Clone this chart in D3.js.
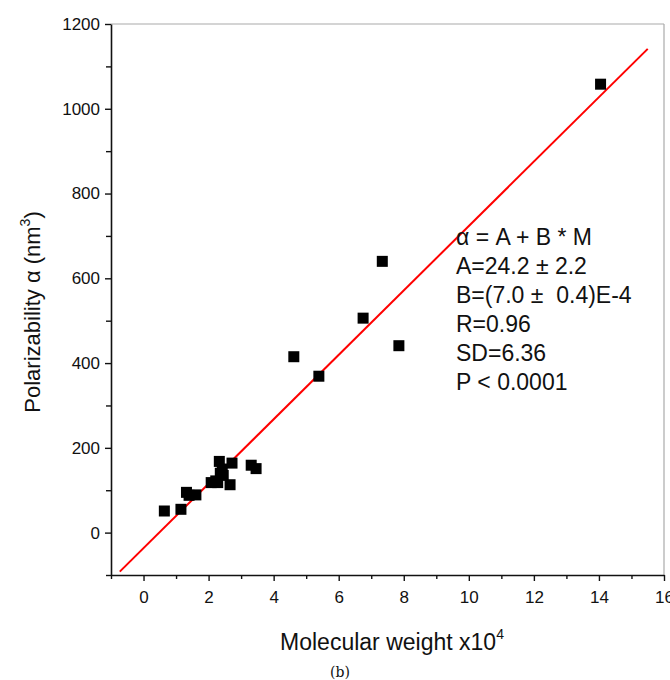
<!DOCTYPE html>
<html>
<head>
<meta charset="utf-8">
<script src="https://cdn.jsdelivr.net/npm/d3@7"></script>
<style>
  body { margin: 0; background: #fff; }
  svg text { font-family: "Liberation Sans", Arial, sans-serif; fill: #111; }
</style>
</head>
<body>
<div id="chart"></div>
<script>
// Chart size
var width = 670;
var height = 680;

// Data (M in units of 10^4, alpha in nm^3)
var molWeight = [0.64, 1.15, 1.32, 1.40, 1.61, 2.08, 2.22, 2.28, 2.33, 2.36, 2.42, 2.45, 2.66, 2.72, 3.31, 3.46, 4.62, 5.39, 6.75, 7.34, 7.85, 14.05];
var polarizability = [51, 55, 95, 88, 89, 118, 122, 118, 168, 140, 150, 135, 113, 164, 159, 151, 415, 369, 506, 640, 441, 1058];

// Fitted line as drawn in the picture
var fitIntercept = -36.6;
var fitSlope = 76;
var fitRange = [-0.73, 15.5];

// Tick values
var xMajorTicks = [0, 2, 4, 6, 8, 10, 12, 14, 16];
var xMinorTicks = [-1, 1, 3, 5, 7, 9, 11, 13, 15];
var yMajorTicks = [0, 200, 400, 600, 800, 1000, 1200];
var yMinorTicks = [-100, 100, 300, 500, 700, 900, 1100];

// Annotation lines
var fitText = ["\u03b1 = A + B * M", "A=24.2 \u00b1 2.2", "B=(7.0 \u00b1  0.4)E-4", "R=0.96", "SD=6.36", "P < 0.0001"];

// Plot area
var plotLeft = 111, plotRight = 664, plotTop = 24, plotBottom = 575;

var x = d3.scaleLinear().domain([-1, 16]).range([plotLeft, plotRight]);
var y = d3.scaleLinear().domain([-100, 1200]).range([plotBottom, plotTop]);

var svg = d3.select("#chart").append("svg")
  .attr("width", width)
  .attr("height", height);

// Grey frame on top and right
svg.append("line")
  .attr("x1", plotLeft).attr("x2", plotRight)
  .attr("y1", plotTop).attr("y2", plotTop)
  .attr("stroke", "#aaa").attr("stroke-width", 1.2);
svg.append("line")
  .attr("x1", plotRight).attr("x2", plotRight)
  .attr("y1", plotTop).attr("y2", plotBottom)
  .attr("stroke", "#aaa").attr("stroke-width", 1.2);

// X axis
svg.append("g")
  .attr("transform", "translate(0," + plotBottom + ")")
  .call(d3.axisBottom(x).tickValues(xMajorTicks).tickSize(6).tickSizeOuter(0).tickPadding(10).tickFormat(d3.format("d")));
svg.append("g")
  .attr("transform", "translate(0," + plotBottom + ")")
  .call(d3.axisBottom(x).tickValues(xMinorTicks).tickSize(4).tickFormat(""))
  .select(".domain").remove();

// Y axis
svg.append("g")
  .attr("transform", "translate(" + plotLeft + ",0)")
  .call(d3.axisLeft(y).tickValues(yMajorTicks).tickSize(6).tickSizeOuter(0).tickPadding(5).tickFormat(d3.format("d")));
svg.append("g")
  .attr("transform", "translate(" + plotLeft + ",0)")
  .call(d3.axisLeft(y).tickValues(yMinorTicks).tickSize(5).tickFormat(""))
  .select(".domain").remove();

svg.selectAll(".domain").attr("stroke", "#111").attr("stroke-width", 1.6);
svg.selectAll(".tick line").attr("stroke", "#111").attr("stroke-width", 1.4);
svg.selectAll(".tick text")
  .style("font-size", "17px")
  .style("font-family", "Liberation Sans, Arial, sans-serif")
  .attr("fill", "#111");

// Fit line
svg.append("line")
  .attr("x1", x(fitRange[0])).attr("y1", y(fitIntercept + fitSlope * fitRange[0]))
  .attr("x2", x(fitRange[1])).attr("y2", y(fitIntercept + fitSlope * fitRange[1]))
  .attr("stroke", "#ff0000")
  .attr("stroke-width", 2);

// Data squares
var points = molWeight.map(function (m, i) { return { m: m, a: polarizability[i] }; });
var sq = 11;
svg.selectAll("rect.pt")
  .data(points)
  .enter()
  .append("rect")
  .attr("class", "pt")
  .attr("x", function (d) { return x(d.m) - sq / 2; })
  .attr("y", function (d) { return y(d.a) - sq / 2; })
  .attr("width", sq)
  .attr("height", sq)
  .attr("fill", "#000");

// Fit annotation
svg.append("g")
  .selectAll("text")
  .data(fitText)
  .enter()
  .append("text")
  .attr("x", 456)
  .attr("y", function (d, i) { return 245 + i * 29; })
  .style("font-size", "23px")
  .style("white-space", "pre")
  .text(function (d) { return d; });

// Y axis title
var yTitle = svg.append("text")
  .attr("transform", "translate(40,312) rotate(-90)")
  .attr("text-anchor", "middle")
  .style("font-size", "22px");
yTitle.append("tspan").text("Polarizability \u03b1 (nm");
yTitle.append("tspan").attr("dy", -10).style("font-size", "14px").text("3");
yTitle.append("tspan").attr("dy", 10).text(")");

// X axis title
var xTitle = svg.append("text")
  .attr("x", 392)
  .attr("y", 650)
  .attr("text-anchor", "middle")
  .style("font-size", "23px");
xTitle.append("tspan").text("Molecular weight x10");
xTitle.append("tspan").attr("dy", -11).style("font-size", "14px").text("4");

// Panel label
svg.append("text")
  .attr("x", 340)
  .attr("y", 677)
  .attr("text-anchor", "middle")
  .style("font-family", "DejaVu Serif, serif")
  .style("font-size", "14px")
  .text("(b)");
</script>
</body>
</html>
